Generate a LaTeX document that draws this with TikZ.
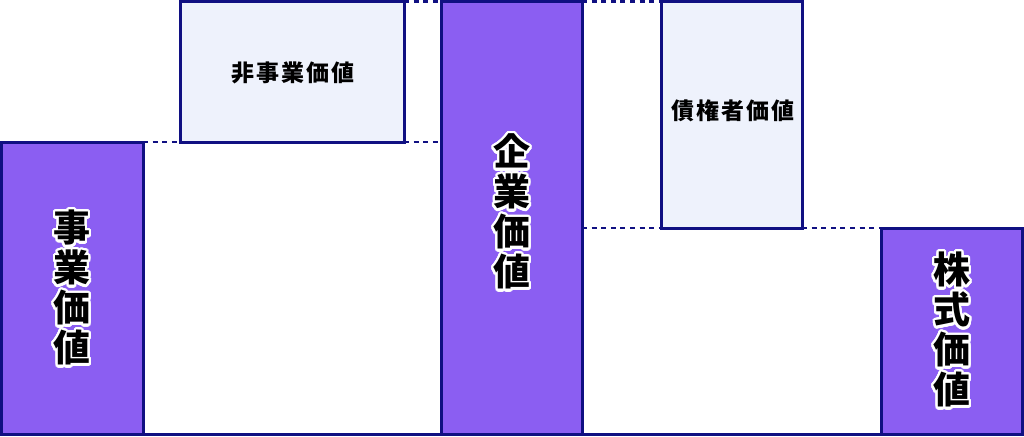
\documentclass[tikz,border=0pt]{standalone}
\usepackage{fontspec}
\usepackage{contour}
\newfontfamily\jp{Noto Sans CJK JP}
\definecolor{barpurple}{RGB}{139,94,242}
\definecolor{navy}{RGB}{16,16,130}
\definecolor{paleblue}{RGB}{238,242,252}
\contourlength{2.4pt}
\contournumber{32}
\tikzset{
  bar/.style={draw=navy, line width=3pt, fill=barpurple},
  pale/.style={draw=navy, line width=3pt, fill=paleblue},
  guide/.style={draw=navy, line width=2.6pt, dash pattern=on 5pt off 4.6pt},
  bigtxt/.style={font=\jp\bfseries\fontsize{37}{40}\selectfont, align=center, inner sep=0pt},
  smalltxt/.style={font=\jp\bfseries\fontsize{23}{26}\selectfont\addfontfeature{LetterSpace=8}, inner sep=0pt},
}
\newcommand{\halo}[1]{\contour{white}{#1}}
\begin{document}
\begin{tikzpicture}[x=1pt,y=-1pt]
\useasboundingbox (0,0) rectangle (1024,436);
\fill[white] (0,0) rectangle (1024,436);
% guides
\coordinate (g1a) at (143,142); \coordinate (g1b) at (180,142);
\coordinate (g2a) at (404,142); \coordinate (g2b) at (441,142);
\coordinate (g3a) at (404,1.5); \coordinate (g3b) at (441,1.5);
\coordinate (g4a) at (582,1.5); \coordinate (g4b) at (661,1.5);
\coordinate (g5a) at (582,228); \coordinate (g5b) at (661,228);
\coordinate (g6a) at (802,228); \coordinate (g6b) at (881,228);
\draw[guide] (g1a) -- (g1b);
\draw[guide] (g2a) -- (g2b);
\draw[guide] (g3a) -- (g3b);
\draw[guide] (g4a) -- (g4b);
\draw[guide] (g5a) -- (g5b);
\draw[guide] (g6a) -- (g6b);
% boxes
\draw[bar] (1.5,142) rectangle (143,434.5);
\draw[pale] (180,1.5) rectangle (404,142);
\draw[bar] (441,1.5) rectangle (582,434.5);
\draw[pale] (661,1.5) rectangle (802,228);
\draw[bar] (881,228) rectangle (1022.5,434.5);
\coordinate (bl) at (0,434.5); \coordinate (br) at (1024,434.5);
\draw[navy, line width=3pt] (bl) -- (br);
% labels
\node[bigtxt] (jigyo) at (72,289) {\halo{事}\\\halo{業}\\\halo{価}\\\halo{値}};
\node[smalltxt] (hijigyo) at (293,73) {非事業価値};
\node[bigtxt] (kigyo) at (512,213) {\halo{企}\\\halo{業}\\\halo{価}\\\halo{値}};
\node[smalltxt] (saiken) at (733,111) {債権者価値};
\node[bigtxt] (kabushiki) at (952,331) {\halo{株}\\\halo{式}\\\halo{価}\\\halo{値}};
\end{tikzpicture}
\end{document}
